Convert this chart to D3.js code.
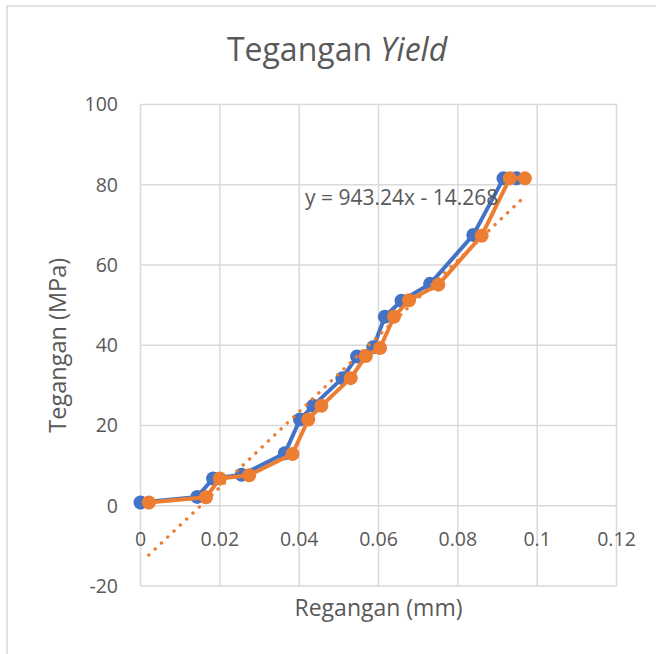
<!DOCTYPE html>
<html>
<head>
<meta charset="utf-8">
<script src="https://cdn.jsdelivr.net/npm/d3@7"></script>
<style>
  html, body { margin: 0; padding: 0; background: #fff; }
  svg { display: block; font-family: "Open Sans", sans-serif; }
</style>
</head>
<body>
<svg id="chart" width="656" height="654"></svg>
<script>
  // strain (x) of the two specimens, stress (y)
  var strainA = [0, 0.0143, 0.0183, 0.0255, 0.0364, 0.0402, 0.0435, 0.0509, 0.0546, 0.0587, 0.0616, 0.0658, 0.0730, 0.0839, 0.0915, 0.0948];
  var strainB = [0.0021, 0.0165, 0.0200, 0.0274, 0.0383, 0.0423, 0.0456, 0.0530, 0.0568, 0.0604, 0.0639, 0.0677, 0.0751, 0.0860, 0.0931, 0.0969];
  var stressA = [0.8, 2.2, 6.8, 7.7, 13.1, 21.5, 24.9, 31.8, 37.2, 39.5, 47.1, 51.1, 55.3, 67.5, 81.6, 81.6];
  var stressB = [0.8, 2.1, 6.8, 7.6, 12.9, 21.5, 24.9, 31.8, 37.3, 39.3, 47.1, 51.2, 55.1, 67.3, 81.6, 81.6];

  var xTicks = [0, 0.02, 0.04, 0.06, 0.08, 0.1, 0.12];
  var yTicks = [-20, 0, 20, 40, 60, 80, 100];
  var trend = { slope: 943.24, intercept: -14.268 };

  var svg = d3.select("#chart");
  var m = { left: 140.5, right: 616.5, top: 104.5, bottom: 586 };

  var x = d3.scaleLinear().domain([0, 0.12]).range([m.left, m.right]);
  var y = d3.scaleLinear().domain([-20, 100]).range([m.bottom, m.top]);

  // chart border
  svg.append("rect")
    .attr("x", 7).attr("y", 6)
    .attr("width", 700).attr("height", 700)
    .attr("fill", "none")
    .attr("stroke", "#d9d9d9")
    .attr("stroke-width", 1.5);

  // title
  var title = svg.append("text")
    .attr("x", 337).attr("y", 61)
    .attr("text-anchor", "middle")
    .attr("fill", "#595959")
    .style("font-size", "32px");
  title.append("tspan").text("Tegangan ");
  title.append("tspan").style("font-style", "italic").text("Yield");

  // gridlines
  svg.append("g").selectAll("line").data(yTicks).enter().append("line")
    .attr("x1", m.left).attr("x2", m.right)
    .attr("y1", (d) => y(d)).attr("y2", (d) => y(d))
    .attr("stroke", "#d9d9d9").attr("stroke-width", 1.5);

  svg.append("g").selectAll("line").data(xTicks).enter().append("line")
    .attr("y1", m.top).attr("y2", m.bottom)
    .attr("x1", (d) => x(d)).attr("x2", (d) => x(d))
    .attr("stroke", "#d9d9d9").attr("stroke-width", 1.5);

  // tick labels
  svg.append("g").selectAll("text").data(yTicks).enter().append("text")
    .attr("x", 118).attr("y", (d) => y(d))
    .attr("dy", "0.35em")
    .attr("text-anchor", "end")
    .attr("fill", "#595959")
    .style("font-size", "19.5px")
    .text((d) => d);

  svg.append("g").selectAll("text").data(xTicks).enter().append("text")
    .attr("x", (d) => x(d)).attr("y", y(0) + 40)
    .attr("text-anchor", "middle")
    .attr("fill", "#595959")
    .style("font-size", "19.5px")
    .text((d) => d3.format("~g")(d));

  // axis titles
  svg.append("text")
    .attr("x", (m.left + m.right) / 2).attr("y", 616)
    .attr("text-anchor", "middle")
    .attr("fill", "#595959")
    .style("font-size", "23px")
    .text("Regangan (mm)");

  svg.append("text")
    .attr("transform", "translate(66," + (m.top + m.bottom) / 2 + ") rotate(-90)")
    .attr("text-anchor", "middle")
    .attr("fill", "#595959")
    .style("font-size", "23.5px")
    .text("Tegangan (MPa)");

  // series
  var series = [
    { xs: strainA, ys: stressA, color: "#4472c4" },
    { xs: strainB, ys: stressB, color: "#ed7d31" }
  ];

  var line = d3.line().x((d) => x(d[0])).y((d) => y(d[1]));

  series.forEach(function (s) {
    var pts = s.xs.map((v, i) => [v, s.ys[i]]);
    var g = svg.append("g");
    g.append("path")
      .attr("d", line(pts))
      .attr("fill", "none")
      .attr("stroke", s.color)
      .attr("stroke-width", 4)
      .attr("stroke-linejoin", "round");
    g.selectAll("circle").data(pts).enter().append("circle")
      .attr("cx", (d) => x(d[0])).attr("cy", (d) => y(d[1]))
      .attr("r", 7)
      .attr("fill", s.color);
  });

  // linear trendline of orange series
  var tx = d3.extent(strainB);
  svg.append("path")
    .attr("d", line(tx.map((v) => [v, trend.slope * v + trend.intercept])))
    .attr("fill", "none")
    .attr("stroke", "#ed7d31")
    .attr("stroke-width", 3.4)
    .attr("stroke-linecap", "round")
    .attr("stroke-dasharray", "0.1 8.6");

  svg.append("text")
    .attr("x", 305).attr("y", 205)
    .attr("fill", "#595959")
    .style("font-size", "21px")
    .text("y = " + trend.slope + "x - " + Math.abs(trend.intercept));
</script>
</body>
</html>
